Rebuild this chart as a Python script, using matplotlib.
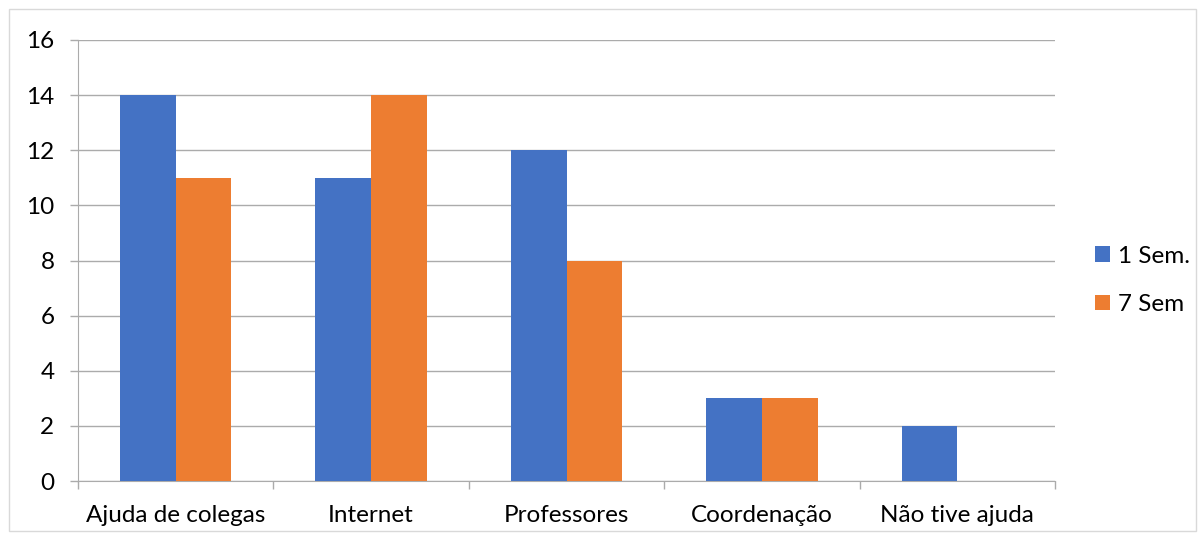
import matplotlib
matplotlib.use("Agg")
import matplotlib.pyplot as plt
from matplotlib.patches import Rectangle
import numpy as np

plt.rcParams['font.family'] = ['Lato', 'DejaVu Sans']

categories = ["Ajuda de colegas", "Internet", "Professores", "Coordenação", "Não tive ajuda"]
sem1 = [14, 11, 12, 3, 2]
sem7 = [11, 14, 8, 3, 0]
series_names = ["1 Sem.", "7 Sem"]
yticks = [0, 2, 4, 6, 8, 10, 12, 14, 16]

blue = "#4472C4"
orange = "#ED7D31"
grid = "#ABABAB"
fs = 17.5

fig = plt.figure(figsize=(12.04, 5.39), dpi=100)
fig.patches.append(Rectangle((9 / 1204, 8 / 539), 1187 / 1204, 522 / 539,
                             transform=fig.transFigure, fill=False,
                             edgecolor="#D9D9D9", linewidth=1))
ax = fig.add_axes([78 / 1204, 1 - 481 / 539, 977 / 1204, 441 / 539])

x = np.arange(len(categories))
w = 0.285
ax.bar(x - w / 2, sem1, width=w, color=blue, label=series_names[0], zorder=3)
ax.bar(x + w / 2, sem7, width=w, color=orange, label=series_names[1], zorder=3)

ax.set_xlim(-0.5, len(categories) - 0.5)
ax.set_ylim(0, 16)
ax.set_yticks(yticks)
ax.yaxis.grid(True, color=grid, linewidth=1, zorder=0)
ax.set_axisbelow(True)

for s in ["top", "right"]:
    ax.spines[s].set_visible(False)
ax.spines["left"].set_color(grid)
ax.spines["bottom"].set_color(grid)

ax.set_xticks(x)
ax.set_xticklabels(categories, fontsize=fs, color="#000000")
ax.tick_params(axis="x", length=0, pad=17)
ax.set_xticks(np.arange(len(categories) + 1) - 0.5, minor=True)
ax.tick_params(axis="x", which="minor", length=6, color=grid, width=1)
ax.tick_params(axis="y", length=6, color=grid, width=1, labelsize=fs, pad=11)

ax.legend(loc="center left", bbox_to_anchor=(1.031, 0.455), frameon=False,
          fontsize=fs, handlelength=0.62, handleheight=0.62, handletextpad=0.33,
          labelspacing=1.12, borderaxespad=0)

fig.savefig("out.png", dpi=100)
